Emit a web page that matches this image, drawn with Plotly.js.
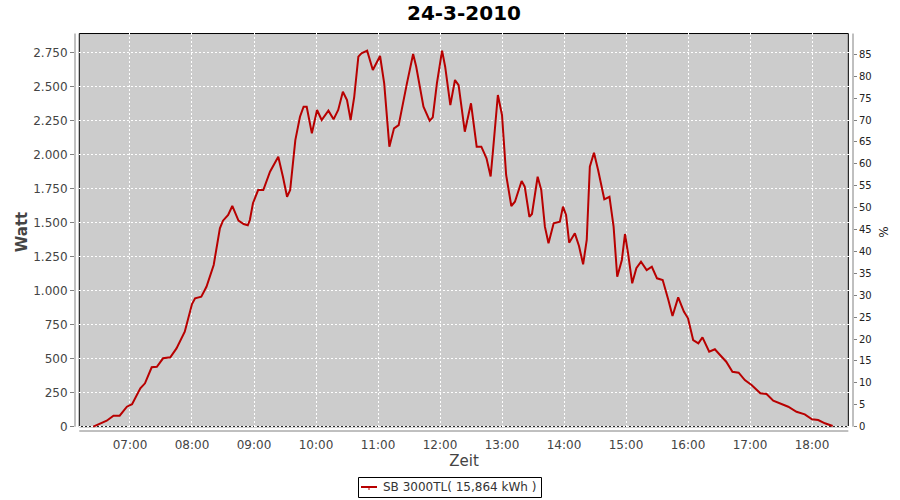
<!DOCTYPE html>
<html>
<head>
<meta charset="utf-8">
<script src="https://cdn.plot.ly/plotly-3.0.1.min.js"></script>
<style>
  html, body { margin: 0; padding: 0; background: #ffffff; }
  #chart { width: 900px; height: 500px; }
</style>
</head>
<body>
<div id="chart"></div>
<script>
// ---- data ----
const day = "2010-03-24";
const times = [
  "06:24:30","06:31","06:37:30","06:44","06:50","06:57","07:02","07:10","07:14:30","07:21",
  "07:26","07:32","07:39","07:45","07:53","08:00","08:03","08:09","08:14","08:21",
  "08:24","08:27","08:30","08:35","08:39","08:45","08:50","08:54","08:56","08:59",
  "09:04","09:09","09:15:30","09:23:30","09:28","09:32","09:35","09:40","09:44:30","09:48",
  "09:51","09:56","10:01","10:05:30","10:12","10:17","10:21:30","10:26","10:30","10:33:30",
  "10:37","10:41","10:44","10:49:30","10:55","11:02","11:06","11:11","11:15:30","11:20",
  "11:28","11:34","11:37","11:44","11:50","11:53","11:57","12:02","12:05","12:10",
  "12:14:30","12:18","12:24","12:30","12:35:30","12:40","12:45","12:49","12:51:30","12:56",
  "13:00","13:04","13:09","13:12:30","13:19","13:22","13:26:30","13:29","13:34:30","13:38",
  "13:41:30","13:45","13:50","13:56","13:59","14:02","14:05","14:10:30","14:14:30","14:18:30",
  "14:22","14:25","14:29","14:33","14:39","14:44","14:48","14:51:30","14:56","14:59",
  "15:02","15:06","15:10","15:14:30","15:20","15:25","15:30","15:35:30","15:41","15:45",
  "15:50:30","15:56","16:00","16:05","16:10","16:14","16:20:30","16:26","16:31","16:37",
  "16:43","16:49","16:55","17:01:30","17:10","17:16","17:22:30","17:29","17:37","17:45",
  "17:53","18:00","18:06","18:12:30","18:20"
];
const watts = [
  0,25,44,81,81,147,165,282,319,437,
  441,503,510,576,699,902,944,956,1029,1189,
  1324,1459,1515,1557,1623,1515,1490,1481,1520,1643,
  1740,1740,1875,1985,1838,1691,1740,2108,2279,2353,
  2353,2157,2329,2255,2324,2260,2329,2463,2402,2255,
  2426,2721,2746,2765,2623,2726,2525,2059,2194,2218,
  2525,2740,2647,2353,2250,2275,2525,2765,2647,2365,
  2549,2512,2169,2378,2059,2059,1974,1840,2048,2439,
  2292,1851,1623,1654,1807,1765,1544,1564,1838,1740,
  1471,1349,1496,1507,1618,1557,1353,1422,1329,1194,
  1373,1912,2015,1888,1672,1691,1471,1103,1226,1417,
  1275,1054,1165,1213,1152,1176,1091,1079,932,814,
  951,846,797,637,613,657,551,569,527,478,
  404,397,343,307,246,240,191,172,147,110,
  91,54,49,25,5
];
const seriesName = "SB 3000TL( 15,864 kWh )";
const chartTitle = "24-3-2010";
const leftTicks = [0,250,500,750,1000,1250,1500,1750,2000,2250,2500,2750];
const rightTicks = [0,5,10,15,20,25,30,35,40,45,50,55,60,65,70,75,80,85];

const xs = times.map(t => day + " " + (t.length === 5 ? t + ":00" : t));

const font = "DejaVu Sans, Verdana, sans-serif";
const axisGray = "#808080";
const lineColor = "#b80000";

const trace = {
  x: xs, y: watts, type: "scatter", mode: "lines",
  name: seriesName,
  line: { color: lineColor, width: 2 },
  showlegend: false,
  hoverinfo: "skip"
};
const dummy = { x: [], y: [], type: "scatter", mode: "lines", yaxis: "y2", showlegend: false, hoverinfo: "skip" };

// pixel -> paper helpers for the plot domain (x 75..853, y 33..431)
const px = p => (p - 75) / 778;
const py = p => (431 - p) / 398;

const layout = {
  width: 900, height: 500,
  margin: { l: 75, r: 47, t: 33, b: 69, pad: 0 },
  paper_bgcolor: "#ffffff",
  plot_bgcolor: "#ffffff",
  separators: ",.",
  font: { family: font, size: 12, color: "#444444" },
  title: {
    text: "<b>" + chartTitle + "</b>",
    font: { family: font, size: 20, color: "#000000" },
    x: 0.5, xanchor: "center", xref: "paper",
    y: 0.975, yanchor: "middle", yref: "container"
  },
  showlegend: false,
  xaxis: {
    type: "date",
    range: [day + " 06:06:47", day + " 18:39:40"],
    tick0: day + " 07:00:00", dtick: 3600000,
    tickformat: "%H:%M",
    showgrid: true, gridcolor: "#ffffff", gridwidth: 1, griddash: "2px,2px",
    zeroline: false, showline: false,
    ticks: "outside", ticklen: 3, tickcolor: "rgba(0,0,0,0)",
    tickfont: { family: font, size: 12, color: "#444444" },
    title: { text: "Zeit", font: { family: font, size: 15, color: "#444444" }, standoff: 4 },
    fixedrange: true
  },
  yaxis: {
    range: [-31.6, 2895],
    tickvals: leftTicks,
    tickformat: ",d",
    showgrid: true, gridcolor: "#ffffff", gridwidth: 1, griddash: "2px,2px",
    zeroline: false, showline: false,
    ticks: "outside", ticklen: 4, tickcolor: axisGray, tickwidth: 1,
    tickfont: { family: font, size: 12, color: "#444444" },
    title: { text: "<b>Watt</b>", font: { family: font, size: 15, color: "#444444" }, standoff: 1 },
    fixedrange: true
  },
  yaxis2: {
    overlaying: "y", side: "right",
    range: [-0.98, 89.86],
    tickvals: rightTicks,
    showgrid: false, zeroline: false, showline: false,
    ticks: "outside", ticklen: 3, tickcolor: axisGray, tickwidth: 1,
    tickfont: { family: font, size: 10, color: "#222222" },
    title: { text: "%", font: { family: font, size: 12, color: "#222222" }, standoff: 8 },
    fixedrange: true
  },
  shapes: [
    // grey plot area with black border
    { type: "rect", xref: "x domain", yref: "y domain", layer: "below",
      x0: 0.0055, x1: 0.9940, y0: 0.0108, y1: 0.9987,
      fillcolor: "#cccccc", line: { color: "#000000", width: 1 } },
    // left axis line
    { type: "line", xref: "paper", yref: "paper", layer: "above",
      x0: 0, x1: 0, y0: 0.0108, y1: 0.9987, line: { color: axisGray, width: 1 } },
    // bottom axis line
    { type: "line", xref: "paper", yref: "paper", layer: "above",
      x0: 0.0055, x1: 0.9940, y0: 0, y1: 0, line: { color: axisGray, width: 1 } },
    // right axis line
    { type: "line", xref: "paper", yref: "paper", layer: "above",
      x0: 1, x1: 1, y0: 0.0108, y1: 0.9987, line: { color: axisGray, width: 1 } },
    // legend box
    { type: "rect", xref: "paper", yref: "paper", layer: "above",
      x0: px(358.5), x1: px(541.5), y0: py(497.5), y1: py(477.5),
      fillcolor: "rgba(255,255,255,0)", line: { color: "#000000", width: 1 } },
    // legend line sample
    { type: "line", xref: "paper", yref: "paper", layer: "above",
      x0: px(361), x1: px(377), y0: py(487), y1: py(487),
      line: { color: lineColor, width: 2 } },
    { type: "line", xref: "paper", yref: "paper", layer: "above",
      x0: px(369), x1: px(369), y0: py(487), y1: py(490),
      line: { color: lineColor, width: 1 } }
  ],
  annotations: [
    { text: seriesName, xref: "paper", yref: "paper",
      x: px(381), y: py(487.5), xanchor: "left", yanchor: "middle",
      showarrow: false, font: { family: font, size: 12, color: "#333333" } }
  ],
  hovermode: false
};

Plotly.newPlot("chart", [trace, dummy], layout, { displayModeBar: false, staticPlot: true });
</script>
</body>
</html>
